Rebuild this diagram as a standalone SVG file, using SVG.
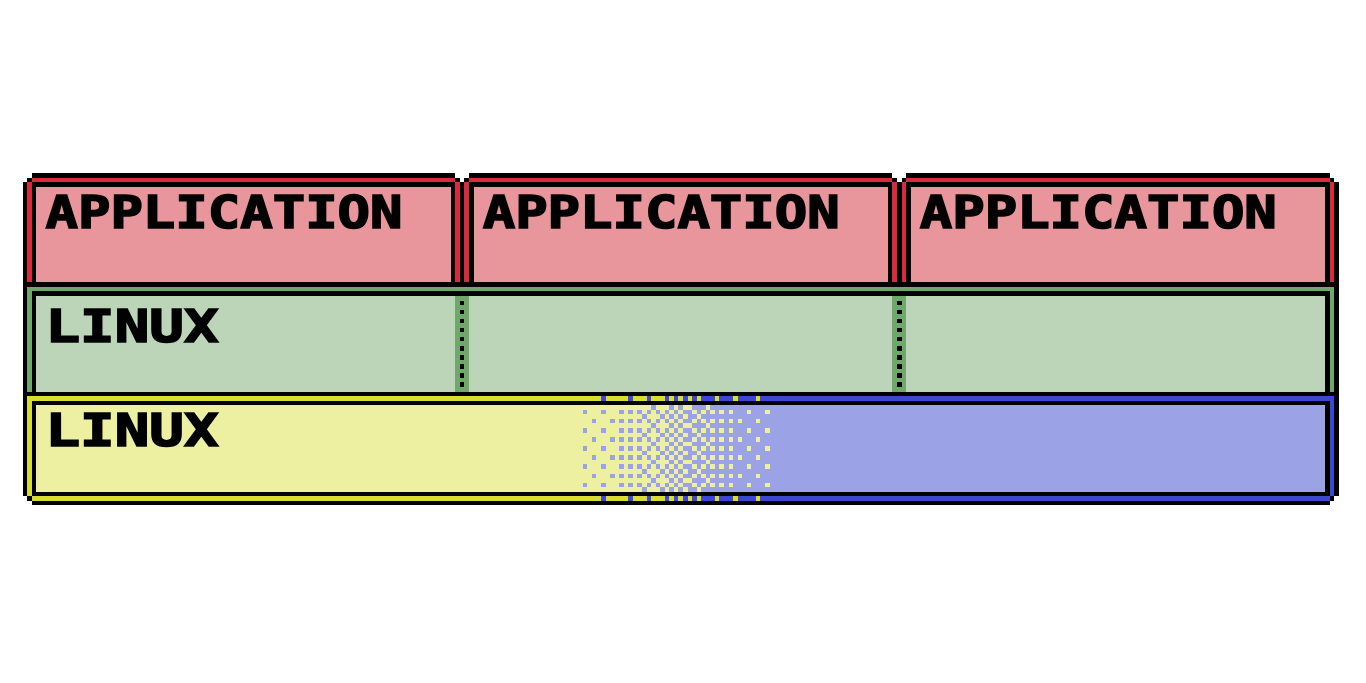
<svg xmlns="http://www.w3.org/2000/svg" width="1366" height="683" viewBox="0 0 1366 683">
<style>
.k{fill:#000}.w{fill:#fff}.r{fill:#d82c3c}.p{fill:#e8969c}.g{fill:#70a86c}.lg{fill:#bcd4b8}
.y{fill:#d8dc34}.ly{fill:#ecf0a0}.b{fill:#3c48d0}.lb{fill:#9ca2e6}
text{font-family:"DejaVu Sans Mono","Liberation Mono",monospace;font-weight:bold;font-size:45px;fill:#000;stroke:#000;stroke-width:1.6px}
</style>
<defs>
<path id="bd" d="M132 0h1v1h-1zM138 0h1v1h-1zM142 0h1v1h-1zM146 0h1v1h-1zM148 0h1v1h-1zM150 0h1v1h-1zM152 0h1v1h-1zM154 0h3v1h-3zM158 0h3v1h-3zM162 0h4v1h-4z"/>
<path id="bb" d="M130 0h1v1h-1zM134 0h1v1h-1zM136 0h1v1h-1zM138 0h1v1h-1zM140 0h1v1h-1zM142 0h1v1h-1zM144 0h1v1h-1zM146 0h1v1h-1zM148 0h1v1h-1zM150 0h1v1h-1zM143 1h1v1h-1zM147 1h1v1h-1zM149 1h1v1h-1zM128 2h1v1h-1zM132 2h1v1h-1zM136 2h1v1h-1zM138 2h1v1h-1zM140 2h1v1h-1zM142 2h1v1h-1zM144 2h1v1h-1zM146 2h1v1h-1zM148 2h1v1h-1zM150 2h1v1h-1zM141 3h1v1h-1zM145 3h1v1h-1zM147 3h1v1h-1zM149 3h1v1h-1z"/>
<path id="yb" d="M152 0h1v1h-1zM154 0h1v1h-1zM156 0h1v1h-1zM158 0h1v1h-1zM160 0h1v1h-1zM162 0h1v1h-1zM166 0h1v1h-1zM151 1h1v1h-1zM155 1h1v1h-1zM152 2h1v1h-1zM154 2h1v1h-1zM156 2h1v1h-1zM158 2h1v1h-1zM160 2h1v1h-1zM164 2h1v1h-1zM168 2h1v1h-1zM153 3h1v1h-1z"/>
</defs>
<rect width="1366" height="683" fill="#fff"/>
<g transform="scale(4.553333)" shape-rendering="crispEdges">
<g id="frame">
<rect class="k" x="7" y="38" width="285" height="73"/>
<rect class="k" x="6" y="39" width="287" height="71"/>
<rect class="k" x="5" y="40" width="289" height="69"/>
<rect class="w" x="100" y="38" width="3" height="1"/>
<rect class="w" x="101" y="39" width="1" height="1"/>
<rect class="w" x="196" y="38" width="3" height="1"/>
<rect class="w" x="197" y="39" width="1" height="1"/>
</g>
<g id="app1">
<rect class="r" x="7" y="39" width="93" height="1"/>
<rect class="r" x="6" y="40" width="1" height="22"/>
<rect class="r" x="100" y="40" width="1" height="22"/>
<rect class="p" x="8" y="41" width="91" height="21"/>
</g>
<g id="app2">
<rect class="r" x="103" y="39" width="93" height="1"/>
<rect class="r" x="102" y="40" width="1" height="22"/>
<rect class="r" x="196" y="40" width="1" height="22"/>
<rect class="p" x="104" y="41" width="91" height="21"/>
</g>
<g id="app3">
<rect class="r" x="199" y="39" width="93" height="1"/>
<rect class="r" x="198" y="40" width="1" height="22"/>
<rect class="r" x="292" y="40" width="1" height="22"/>
<rect class="p" x="200" y="41" width="91" height="21"/>
</g>
<g id="linux-guest">
<rect class="g" x="6" y="63" width="287" height="1"/>
<rect class="g" x="6" y="63" width="1" height="23"/>
<rect class="g" x="292" y="63" width="1" height="23"/>
<rect class="lg" x="8" y="65" width="283" height="21"/>
<rect class="g" x="100" y="65" width="3" height="21"/>
<rect class="g" x="196" y="65" width="3" height="21"/>
<path class="k" d="M101 66h1v1h-1zM101 68h1v1h-1zM101 70h1v1h-1zM101 72h1v1h-1zM101 74h1v1h-1zM101 76h1v1h-1zM101 78h1v1h-1zM101 80h1v1h-1zM101 82h1v1h-1zM101 84h1v1h-1z"/>
<path class="k" d="M197 66h1v1h-1zM197 68h1v1h-1zM197 70h1v1h-1zM197 72h1v1h-1zM197 74h1v1h-1zM197 76h1v1h-1zM197 78h1v1h-1zM197 80h1v1h-1zM197 82h1v1h-1zM197 84h1v1h-1z"/>
</g>
<g id="linux-host">
<rect class="y" x="6" y="87" width="1" height="22"/>
<rect class="b" x="292" y="87" width="1" height="22"/>
<rect class="y" x="6" y="87" width="161" height="1"/>
<rect class="b" x="167" y="87" width="126" height="1"/>
<rect class="y" x="7" y="109" width="160" height="1"/>
<rect class="b" x="167" y="109" width="125" height="1"/>
<use href="#bd" y="87" class="b"/>
<use href="#bd" y="109" class="b"/>
<rect class="ly" x="8" y="89" width="143" height="19"/>
<rect class="lb" x="151" y="89" width="140" height="19"/>
<use href="#bb" y="88" class="lb"/>
<use href="#bb" y="92" class="lb"/>
<use href="#bb" y="96" class="lb"/>
<use href="#bb" y="100" class="lb"/>
<use href="#bb" y="104" class="lb"/>
<use href="#yb" y="88" class="ly"/>
<use href="#yb" y="92" class="ly"/>
<use href="#yb" y="96" class="ly"/>
<use href="#yb" y="100" class="ly"/>
<use href="#yb" y="104" class="ly"/>
<rect class="k" x="7" y="88" width="285" height="1"/>
</g>
<g id="connectors"/>
</g>
<g id="labels">
<text x="45.5" y="227.7" textLength="357" lengthAdjust="spacingAndGlyphs">APPLICATION</text>
<text x="482.7" y="227.7" textLength="357" lengthAdjust="spacingAndGlyphs">APPLICATION</text>
<text x="919.8" y="227.7" textLength="357" lengthAdjust="spacingAndGlyphs">APPLICATION</text>
<text x="45.5" y="341.5" textLength="173" lengthAdjust="spacingAndGlyphs">LINUX</text>
<text x="45.5" y="446.2" textLength="173" lengthAdjust="spacingAndGlyphs">LINUX</text>
</g>
</svg>
